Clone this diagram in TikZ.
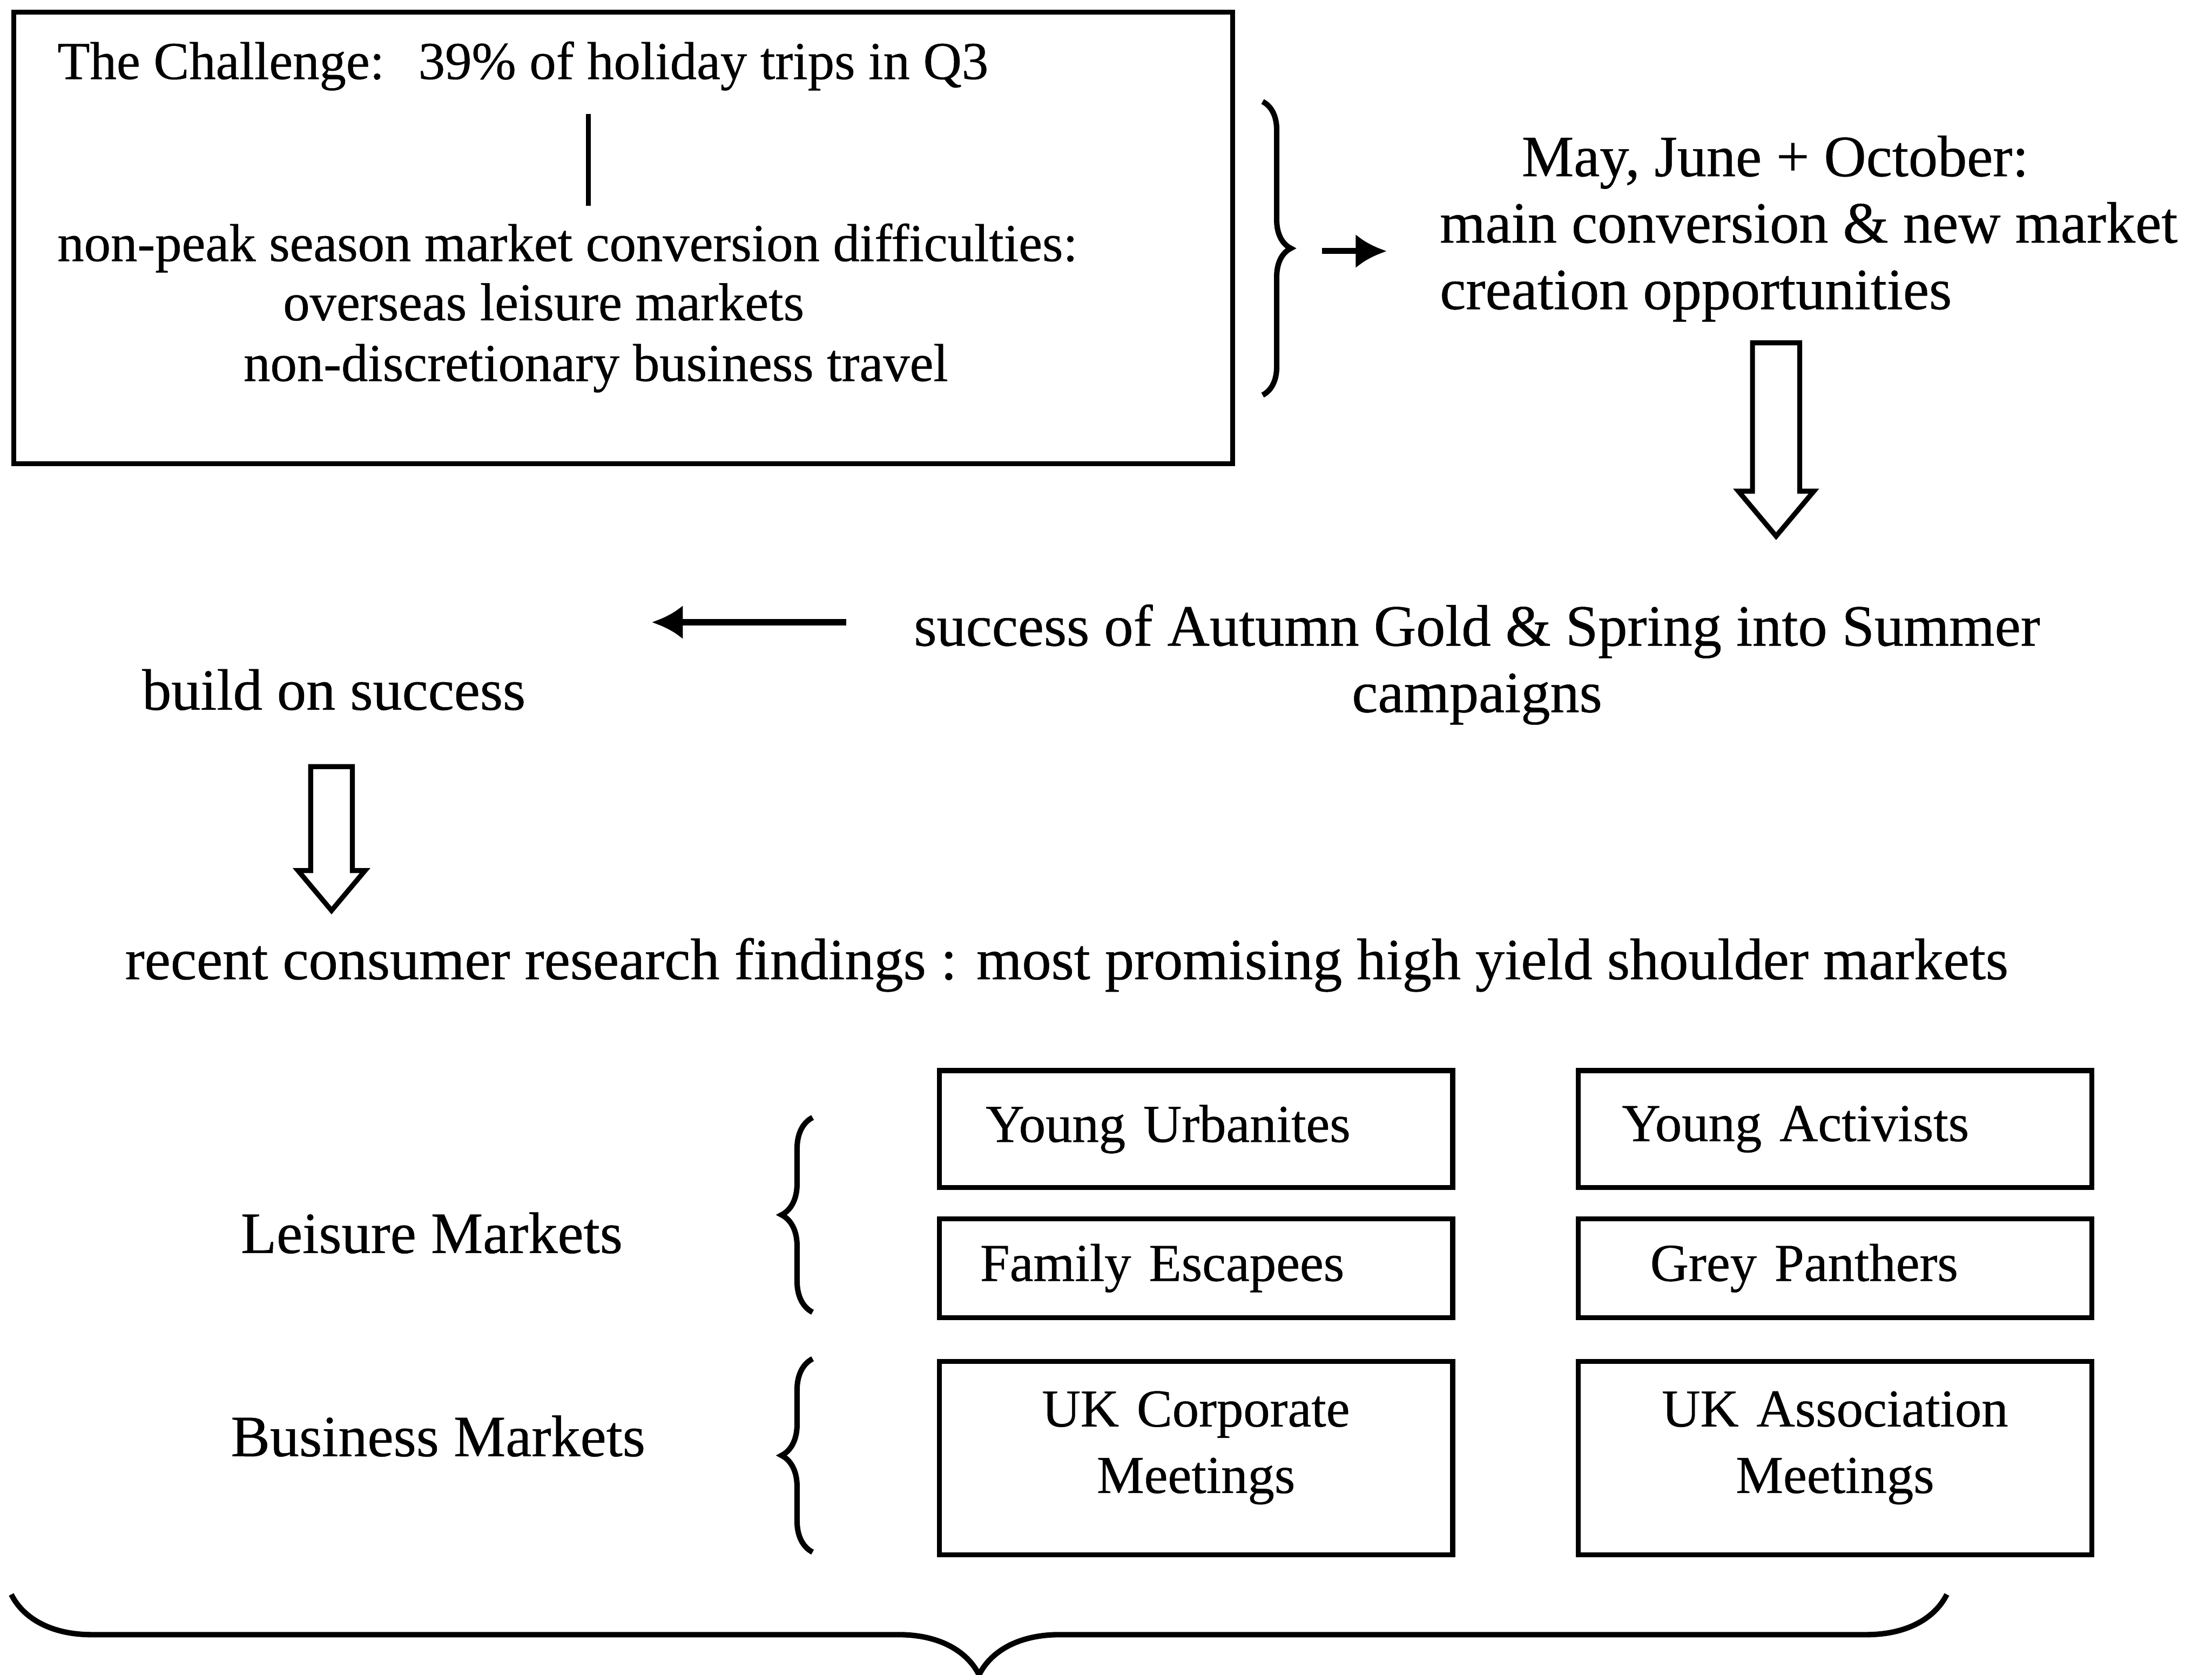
\documentclass[tikz,border=0pt]{standalone}
\usepackage{fontspec}
\setmainfont{Liberation Serif}[FakeBold=0.5]
\usetikzlibrary{arrows.meta,shapes.arrows,decorations.pathreplacing}

\newcommand{\mainsize}{\fontsize{11.8}{13.4}\selectfont}
\newcommand{\boxsize}{\fontsize{10.75}{13.4}\selectfont}

\tikzset{
  txt/.style={inner sep=0pt, font=\mainsize},
  boxtxt/.style={inner sep=0pt, font=\boxsize},
  mktbox/.style={draw, line width=1pt, text width=3.64cm, inner xsep=0pt, inner ysep=0pt,
    anchor=north west, font=\boxsize},
  hollow/.style={single arrow, draw, line width=1pt, shape border rotate=270,
    single arrow tip angle=80, anchor=center},
  curly/.style={decorate, decoration={brace, amplitude=#1}, line width=1.1pt},
  solidtip/.style={-{Latex[length=0.22cm,width=0.24cm]}, line width=1.2pt}
}

\begin{document}
\begin{tikzpicture}[x=1cm,y=-1cm]
        \useasboundingbox (0,0) rectangle (15.68,11.87);

        % The challenge box
        \node[draw, line width=1pt, minimum width=8.64cm, minimum height=3.2cm,
              anchor=north west, inner sep=0pt] (chalbox) at (0.08,0.07) {};
        \node[boxtxt, anchor=base west] (chal) at (0.40,0.56)
            {The Challenge:\hspace{0.24cm}39\% of holiday trips in Q3};
        \node[boxtxt, anchor=base west] (nonpeak) at (0.40,1.85)
            {non-peak season market conversion difficulties:};
        \node[boxtxt, anchor=base west] (overseas) at (2.00,2.27) {overseas leisure markets};
        \node[boxtxt, anchor=base west] (nondisc) at (1.72,2.70) {non-discretionary business travel};
        \coordinate (lnk) at (4.17,0);
        \draw[line width=1pt, shorten <=0.16cm, shorten >=0.12cm] (chal.south -| lnk) -- (nonpeak.north -| lnk);

        % brace and opportunities
        \draw[curly=0.2cm] (8.95,0.72) -- (8.95,2.80);
        \coordinate (bracetip) at (9.37,1.78);
        \node[txt, align=left, anchor=west] (may) at (10.20,1.62)
            {\hspace*{0.58cm}May, June + October:\\ main conversion \& new market\\ creation opportunities};
        \draw[solidtip, shorten >=0.37cm] (bracetip) -- (bracetip -| may.west);

        \node[hollow, minimum height=1.37cm, inner sep=0.15cm,
              single arrow head extend=0.1cm] (down1) at (12.59,3.015) {};

        % campaigns
        \node[txt, align=center] (succ) at (10.47,4.71)
            {success of Autumn Gold \& Spring into Summer\\ campaigns};
        \coordinate (lfrom) at (6.00,4.41);
        \coordinate (lto) at (4.62,4.41);
        \draw[solidtip] (lfrom) -- (lto);
        \node[txt, anchor=base west] (build) at (1.00,5.03) {build on success};

        \node[hollow, minimum height=1.02cm, inner sep=0.13cm,
              single arrow head extend=0.09cm] (down2) at (2.35,5.855) {};

        \node[txt, anchor=base west] (recent) at (0.88,6.94)
            {recent consumer research findings : most promising high yield shoulder markets};

        % segments
        \node[mktbox, minimum height=0.83cm, align=left] (yu) at (6.64,7.57)
            {\hspace*{0.33cm}Young Urbanites};
        \node[mktbox, minimum height=0.83cm, align=left] (ya) at (11.17,7.57)
            {\hspace*{0.31cm}Young Activists};
        \node[mktbox, minimum height=0.70cm, align=left] (fe) at (6.64,8.62)
            {\hspace*{0.29cm}Family Escapees};
        \node[mktbox, minimum height=0.70cm, align=left] (gp) at (11.17,8.62)
            {\hspace*{0.51cm}Grey Panthers};
        \node[mktbox, minimum height=1.37cm, align=center] (ukc) at (6.64,9.63)
            {UK Corporate\\ Meetings\\[-7pt]\mbox{}};
        \node[mktbox, minimum height=1.37cm, align=center] (uka) at (11.17,9.63)
            {UK Association\\ Meetings\\[-7pt]\mbox{}};

        \draw[curly=0.22cm] (5.76,9.30) -- (5.76,7.92);
        \draw[curly=0.22cm] (5.76,11.00) -- (5.76,9.63);
        \node[txt, anchor=base west] (leis) at (1.70,8.88) {Leisure Markets};
        \node[txt, anchor=base west] (busi) at (1.63,10.32) {Business Markets};

        % bottom brace
        \draw[curly=0.57cm] (13.80,11.30) -- (0.08,11.30);
\end{tikzpicture}
\end{document}
